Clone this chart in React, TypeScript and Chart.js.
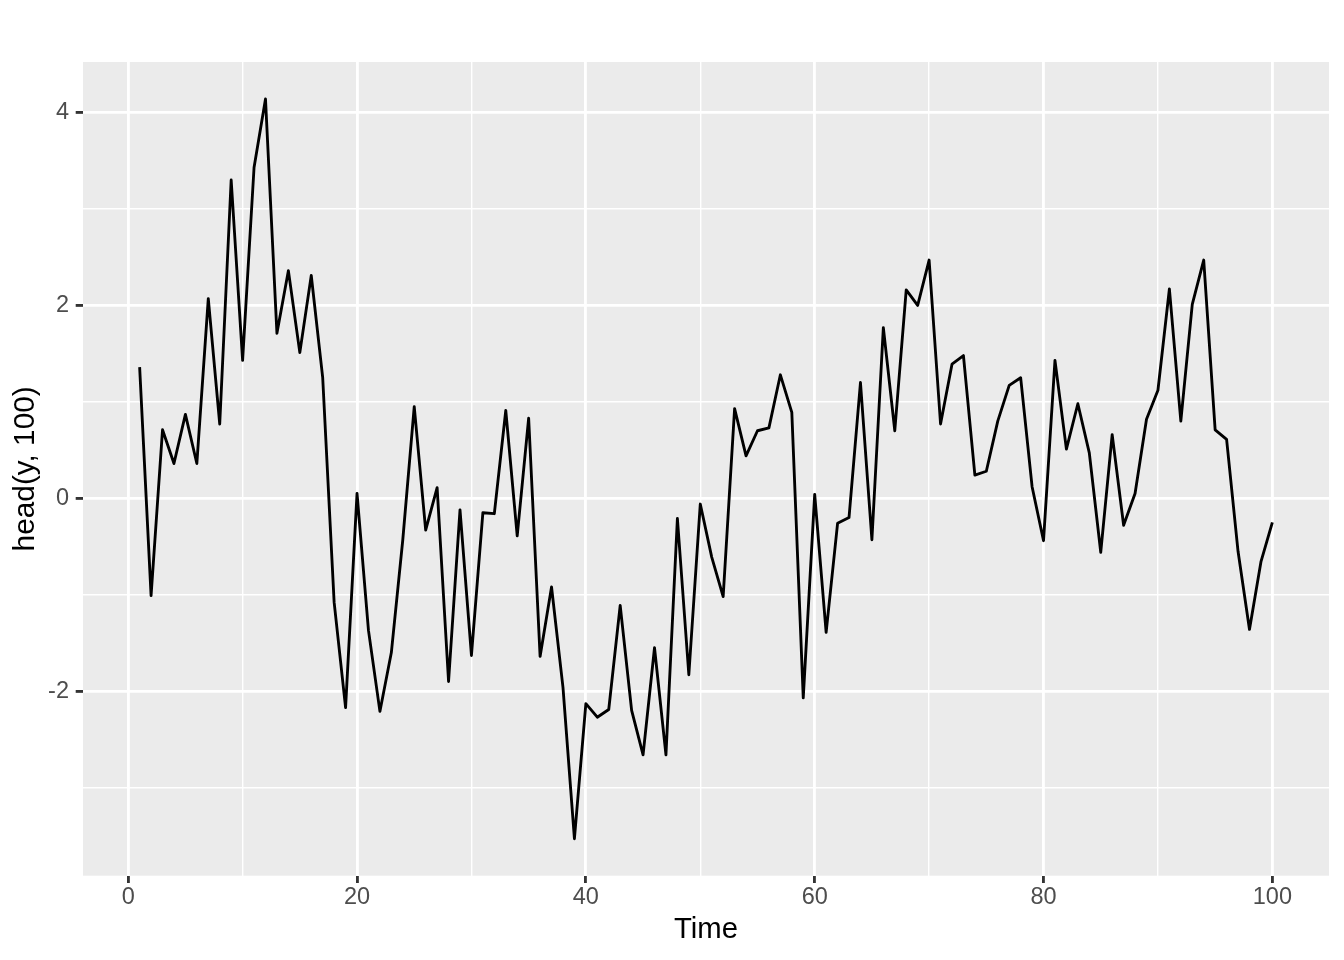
import React, { useEffect, useRef } from "react";
import { Chart, registerables } from "chart.js";

Chart.register(...registerables);

// Series values (head(y, 100), t = 1..100)
const seriesValues = [
  1.36, -1.01, 0.71, 0.36, 0.87, 0.36, 2.07, 0.77, 3.30, 1.43,
  3.43, 4.14, 1.71, 2.36, 1.51, 2.31, 1.25, -1.08, -2.17, 0.05,
  -1.37, -2.21, -1.60, -0.43, 0.95, -0.33, 0.11, -1.90, -0.12, -1.63,
  -0.15, -0.16, 0.91, -0.39, 0.83, -1.64, -0.92, -1.96, -3.53, -2.13,
  -2.27, -2.19, -1.11, -2.20, -2.66, -1.55, -2.66, -0.21, -1.83, -0.06,
  -0.61, -1.02, 0.93, 0.44, 0.70, 0.73, 1.28, 0.89, -2.07, 0.04,
  -1.39, -0.26, -0.20, 1.20, -0.43, 1.77, 0.70, 2.16, 2.00, 2.47,
  0.77, 1.39, 1.48, 0.24, 0.28, 0.80, 1.17, 1.25, 0.12, -0.44,
  1.43, 0.51, 0.98, 0.47, -0.56, 0.66, -0.28, 0.05, 0.82, 1.12,
  2.17, 0.80, 2.01, 2.47, 0.71, 0.61, -0.55, -1.36, -0.66, -0.25,
];
const timeIndex = seriesValues.map((_, i) => i + 1);

const xMajorTicks = [0, 20, 40, 60, 80, 100];
const xMinorTicks = [10, 30, 50, 70, 90];
const yMajorTicks = [-2, 0, 2, 4];
const yMinorTicks = [-3, -1, 1, 3];

const xTitle = "Time";
const yTitle = "head(y, 100)";

const FONT = "'Liberation Sans', Arial, Helvetica, sans-serif";

function expandRange(vals: number[]): [number, number] {
  const mn = Math.min(...vals);
  const mx = Math.max(...vals);
  const pad = (mx - mn) * 0.05;
  return [mn - pad, mx + pad];
}

export default function App() {
  const ref = useRef<HTMLCanvasElement>(null);

  useEffect(() => {
    const prevMargin = document.body.style.margin;
    document.body.style.margin = "0";
    const [xMin, xMax] = expandRange(timeIndex);
    const [yMin, yMax] = expandRange(seriesValues);

    const panelBg = {
      id: "panelBg",
      beforeDraw(chart: any) {
        const { ctx, chartArea: a } = chart;
        ctx.save();
        ctx.fillStyle = "#EBEBEB";
        ctx.fillRect(a.left, a.top, a.right - a.left, a.bottom - a.top);
        ctx.restore();
      },
    };

    const isMajorX = (v: number) => xMajorTicks.includes(v);
    const isMajorY = (v: number) => yMajorTicks.includes(v);

    const chart = new Chart(ref.current as HTMLCanvasElement, {
      type: "line",
      data: {
        datasets: [
          {
            data: timeIndex.map((t, i) => ({ x: t, y: seriesValues[i] })),
            borderColor: "#000000",
            borderWidth: 2.85,
            pointRadius: 0,
            tension: 0,
            borderJoinStyle: "round",
            fill: false,
          },
        ],
      },
      options: {
        responsive: false,
        animation: false,
        devicePixelRatio: 1,
        layout: { padding: { top: 62, right: 15, left: 0, bottom: 0 } },
        plugins: {
          legend: { display: false },
          tooltip: { enabled: false },
        },
        scales: {
          x: {
            type: "linear",
            min: xMin,
            max: xMax,
            afterBuildTicks: (s: any) => {
              s.ticks = [...xMajorTicks, ...xMinorTicks]
                .sort((a, b) => a - b)
                .map((v) => ({ value: v }));
            },
            afterFit: (s: any) => {
              s.height = 84.3;
            },
            border: { display: false },
            grid: {
              color: "#FFFFFF",
              lineWidth: (c: any) => (isMajorX(c.tick?.value) ? 2.85 : 1.42),
              drawTicks: true,
              tickLength: 7.3,
              tickWidth: 2.85,
              tickColor: (c: any) => (isMajorX(c.tick?.value) ? "#333333" : "rgba(0,0,0,0)"),
            },
            ticks: {
              autoSkip: false,
              maxRotation: 0,
              minRotation: 0,
              padding: 0.5,
              color: "#4D4D4D",
              font: { family: FONT, size: 23.5 },
              callback: (v: any) => (isMajorX(Number(v)) ? String(v) : ""),
            },
            title: {
              display: true,
              text: xTitle,
              color: "#000000",
              font: { family: FONT, size: 29.3 },
              padding: { top: 4, bottom: 12.4 },
            },
          },
          y: {
            type: "linear",
            min: yMin,
            max: yMax,
            afterBuildTicks: (s: any) => {
              s.ticks = [...yMajorTicks, ...yMinorTicks]
                .sort((a, b) => a - b)
                .map((v) => ({ value: v }));
            },
            afterFit: (s: any) => {
              s.width = 83;
            },
            border: { display: false },
            grid: {
              color: "#FFFFFF",
              lineWidth: (c: any) => (isMajorY(c.tick?.value) ? 2.85 : 1.42),
              drawTicks: true,
              tickLength: 7.3,
              tickWidth: 2.85,
              tickColor: (c: any) => (isMajorY(c.tick?.value) ? "#333333" : "rgba(0,0,0,0)"),
            },
            ticks: {
              autoSkip: false,
              padding: 6.7,
              color: "#4D4D4D",
              font: { family: FONT, size: 23.5 },
              callback: (v: any) => (isMajorY(Number(v)) ? String(v) : ""),
            },
            title: {
              display: true,
              text: yTitle,
              color: "#000000",
              font: { family: FONT, size: 29.8 },
              padding: { top: 7.8, bottom: 4 },
            },
          },
        },
      },
      plugins: [panelBg],
    } as any);

    return () => {
      chart.destroy();
      document.body.style.margin = prevMargin;
    };
  }, []);

  return (
    <div style={{ width: 1344, height: 960, position: "relative" }}>
      <canvas ref={ref} width={1344} height={960} style={{ display: "block", width: 1344, height: 960 }} />
    </div>
  );
}
